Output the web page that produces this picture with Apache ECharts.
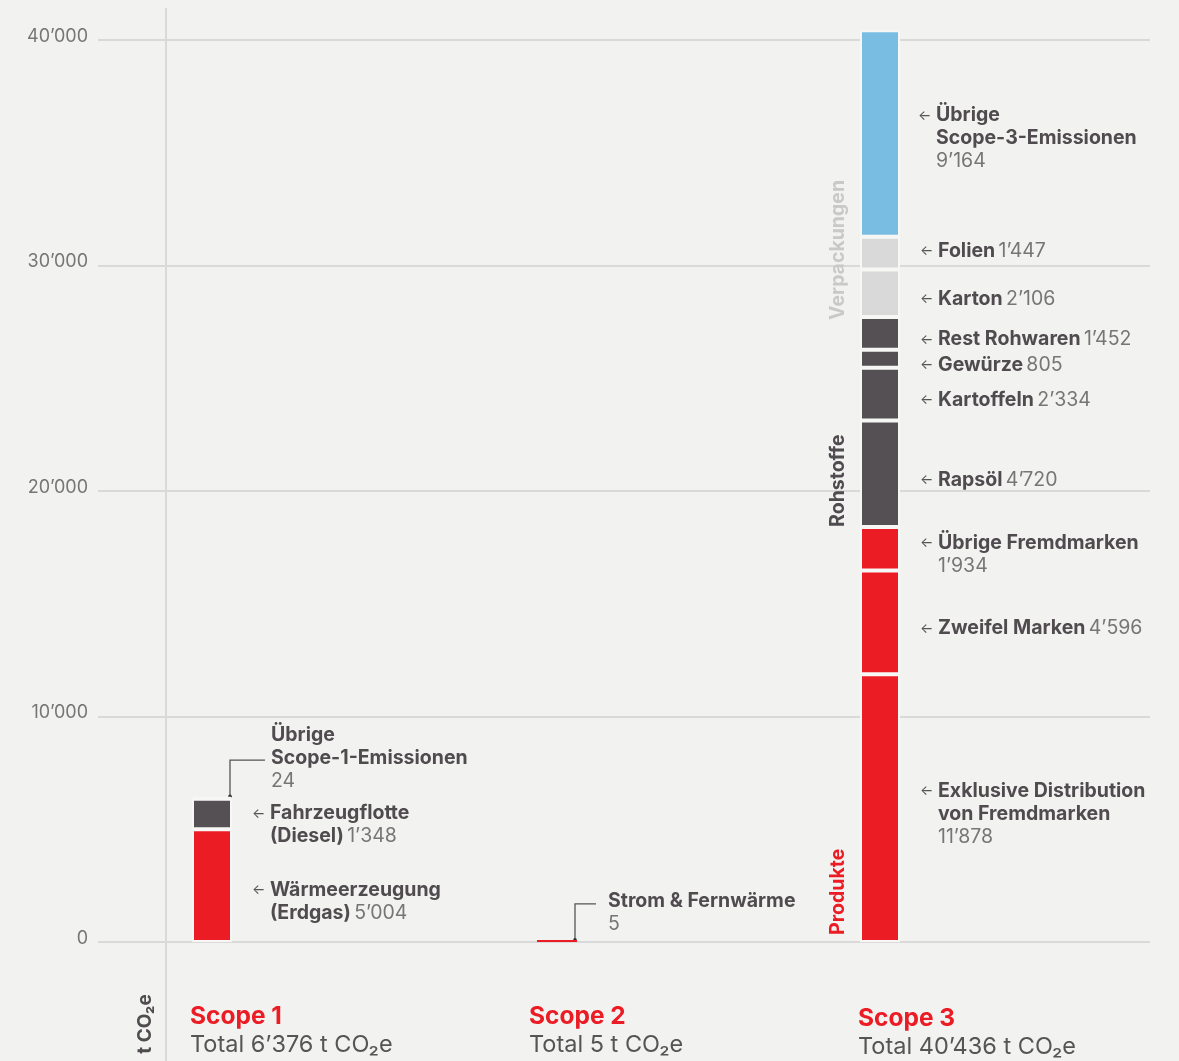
<!DOCTYPE html>
<html><head><meta charset="utf-8">
<script src="https://cdn.jsdelivr.net/npm/echarts/dist/echarts.min.js"></script>
<style>html,body{margin:0;padding:0;background:#f2f2f1;}#c{width:1179px;height:1061px;}</style>
</head><body><div id="c"></div>
<script>
// ---------- data ----------
const scopes = ['Scope 1', 'Scope 2', 'Scope 3'];
const yTicks = [0, 10000, 20000, 30000, 40000];

const scope1Names  = ['Wärmeerzeugung\n(Erdgas)', 'Fahrzeugflotte\n(Diesel)', 'Übrige\nScope-1-Emissionen\n'];
const scope1Values = [5004, 1348, 24];
const scope1Colors = ['red', 'dark', 'light'];

const scope2Names  = ['Strom & Fernwärme\n'];
const scope2Values = [5];
const scope2Colors = ['red'];

const scope3Names  = ['Exklusive Distribution\nvon Fremdmarken\n', 'Zweifel Marken', 'Übrige Fremdmarken\n',
                      'Rapsöl', 'Kartoffeln', 'Gewürze', 'Rest Rohwaren', 'Karton', 'Folien',
                      'Übrige\nScope-3-Emissionen\n'];
const scope3Values = [11878, 4596, 1934, 4720, 2334, 805, 1452, 2106, 1447, 9164];
const scope3Colors = ['red', 'red', 'red', 'dark', 'dark', 'dark', 'dark', 'light', 'light', 'blue'];

const groupNames  = ['Produkte', 'Rohstoffe', 'Verpackungen'];
const groupStart  = [0, 3, 7];
const groupColors = ['#EC1C24', '#4f4b4e', '#c9c9c9'];

// ---------- style ----------
const FONT = 'Inter, "Noto Sans", sans-serif';
const COL = { red: '#EC1C24', dark: '#545053', light: '#D9D9D9', blue: '#79BEE2' };
const TEXT_DARK = '#4f4b4e', TEXT_GRAY = '#767676', BG = '#f2f2f1';
const fmt = v => String(v).replace(/\B(?=(\d{3})+(?!\d))/g, '\u2019');
const sum = a => a.reduce((s, v) => s + v, 0);

const rich = {
  a: { fontFamily: FONT, fontSize: 14, color: '#555', width: 18 },
  s: { fontFamily: FONT, fontSize: 14, width: 18 },
  b: { fontFamily: FONT, fontSize: 19.5, fontWeight: 'bold', color: TEXT_DARK, lineHeight: 23 },
  v: { fontFamily: FONT, fontSize: 19.5, color: TEXT_GRAY, lineHeight: 23 }
};

function richLabel(name, value, arrow) {
  const lines = name.split('\n');
  return lines.map((ln, i) => {
    const pre = arrow ? (i === 0 ? '{a|\u2190}' : '{s| }') : '';
    if (i === lines.length - 1) {
      return ln ? pre + '{b|' + ln + '} {v|' + fmt(value) + '}' : pre + '{v|' + fmt(value) + '}';
    }
    return pre + '{b|' + ln + '}';
  }).join('\n');
}

// label tweaks (style only)
const special = {
  'Übrige\nScope-1-Emissionen\n': { arrow: false, distance: 39, offset: [0, -40] },
  'Strom & Fernwärme\n': { arrow: false, distance: 31, offset: [0, -28] },
  'Fahrzeugflotte\n(Diesel)': { offset: [0, 11] },
  'Wärmeerzeugung\n(Erdgas)': { offset: [0, 16] },
  'Folien': { offset: [0, -2] },
  'Übrige\nScope-3-Emissionen\n': { offset: [-2, 5] }
};

function makeSeries(names, values, colors, idx, stack, opts) {
  return names.map((n, i) => {
    const sp = special[n] || {};
    const arrow = sp.arrow !== false;
    return {
      type: 'bar', name: n.replace(/\n/g, ' ').trim(), stack: stack,
      xAxisIndex: idx, yAxisIndex: idx, barWidth: 40, barMinHeight: 2, clip: false,
      data: [values[i]], silent: true,
      itemStyle: { color: COL[colors[i]], borderColor: opts.border ? '#f7f7f6' : 'transparent', borderWidth: opts.border ? 2 : 0 },
      label: {
        show: true, position: 'right', distance: sp.distance !== undefined ? sp.distance : 20,
        offset: sp.offset || [0, opts.dy], align: 'left',
        formatter: richLabel(n, values[i], arrow), rich: rich
      }
    };
  });
}

const barCenters = [212, 557, 880];
const gTop = 40, gBottom = 119;
const grids = [{ left: 98, right: 29, top: gTop, bottom: gBottom }];
const xAxes = [{ type: 'value', gridIndex: 0, show: false }];
const yAxes = [{
  type: 'value', gridIndex: 0, min: yTicks[0], max: yTicks[yTicks.length - 1], interval: yTicks[1] - yTicks[0],
  axisLine: { show: false }, axisTick: { show: false },
  axisLabel: { margin: 10, formatter: v => '{t|' + fmt(v) + '}',
    rich: { t: { color: TEXT_GRAY, fontFamily: FONT, fontSize: 18, padding: [0, 0, 7, 0] } } },
  splitLine: { lineStyle: { color: '#d9d9d9', width: 2 } }
}];
scopes.forEach((s, k) => {
  grids.push({ left: barCenters[k] - 40, width: 80, top: gTop, bottom: gBottom });
  xAxes.push({ type: 'category', gridIndex: k + 1, data: [s], show: false });
  yAxes.push({ type: 'value', gridIndex: k + 1, min: yTicks[0], max: yTicks[yTicks.length - 1], show: false, splitLine: { show: false } });
});

const series = [].concat(
  makeSeries(scope1Names, scope1Values, scope1Colors, 1, 's1', { border: true, dy: 0 }),
  makeSeries(scope2Names, scope2Values, scope2Colors, 2, 's2', { border: false, dy: 0 }),
  makeSeries(scope3Names, scope3Values, scope3Colors, 3, 's3', { border: true, dy: 6 })
);

const chart = echarts.init(document.getElementById('c'));
chart.setOption({
  backgroundColor: BG, animation: false,
  grid: grids, xAxis: xAxes, yAxis: yAxes, series: series
});

// ---------- annotations computed from the axes ----------
const totals = [sum(scope1Values), sum(scope2Values), sum(scope3Values)];
const titleNudge = [0, -6, 0];
const g = [];
g.push({ type: 'line', shape: { x1: 166, y1: 8, x2: 166, y2: 1061 }, style: { stroke: '#d9d9d9', lineWidth: 2 }, z: 0 });
g.push({ type: 'text', x: 145, y: 1024, rotation: Math.PI / 2,
  style: { text: 't CO\u2082e', fontFamily: FONT, fontSize: 19, fontWeight: 'bold', fill: TEXT_DARK, align: 'center', verticalAlign: 'middle' } });

scopes.forEach((s, k) => {
  const p = chart.convertToPixel({ gridIndex: k + 1 }, [0, 0]);
  const left = p[0] - 22 + titleNudge[k];
  const dy = k === 2 ? 2 : 0;
  g.push({ type: 'text', x: left, y: 1017 + dy, style: { text: s, fontFamily: FONT, fontSize: 24.5, fontWeight: 'bold', fill: '#EC1C24', align: 'left', verticalAlign: 'middle' } });
  g.push({ type: 'text', x: left, y: 1045 + dy, style: { text: 'Total ' + fmt(totals[k]) + ' t CO\u2082e', fontFamily: FONT, fontSize: 23.5, fill: '#555', align: 'left', verticalAlign: 'middle' } });
});

// connectors for scope 1 (Übrige) and scope 2
[[1, totals[0], 53], [2, totals[1], 39]].forEach(([gi, val, len]) => {
  const p = chart.convertToPixel({ gridIndex: gi }, [0, val]);
  const x = p[0] + 18, y0 = p[1] - 2, y1 = p[1] - 38;
  g.push({ type: 'polyline', shape: { points: [[x, y0], [x, y1], [p[0] + len, y1]] }, style: { stroke: '#555', lineWidth: 1.3, fill: null } });
  g.push({ type: 'circle', shape: { cx: x, cy: y0, r: 1.8 }, style: { fill: '#333' } });
});

// group labels for scope 3
let cum = [0];
scope3Values.forEach((v, i) => cum.push(cum[i] + v));
const groupNudge = [-7, 0, 3];
groupNames.forEach((n, i) => {
  const p = chart.convertToPixel({ gridIndex: 3 }, [0, cum[groupStart[i]]]);
  g.push({ type: 'text', x: p[0] - 42, y: p[1] + groupNudge[i], rotation: Math.PI / 2,
    style: { text: n, fontFamily: FONT, fontSize: 19.5, fontWeight: 'bold', fill: groupColors[i], align: 'left', verticalAlign: 'middle' } });
});

chart.setOption({ graphic: g });
</script>
</body></html>
